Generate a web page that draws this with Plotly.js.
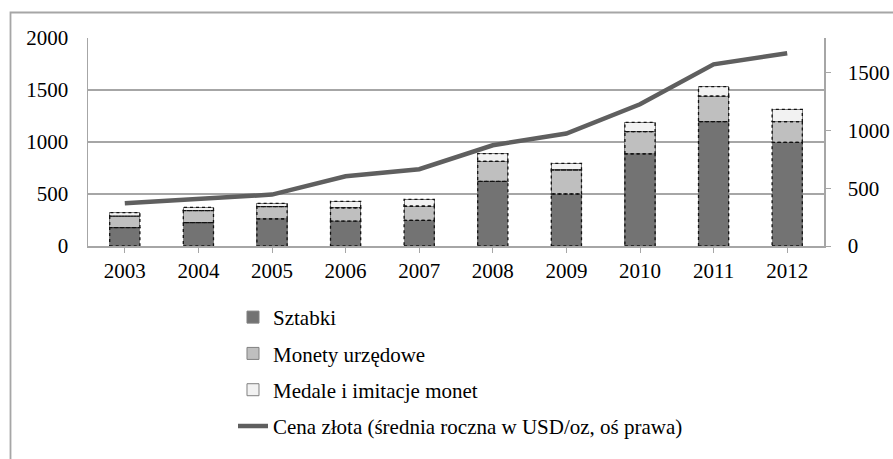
<!DOCTYPE html>
<html>
<head>
<meta charset="utf-8">
<script src="https://cdn.plot.ly/plotly-3.0.1.min.js"></script>
<style>html,body{margin:0;padding:0;background:#fff;}#chart{width:893px;height:459px;}</style>
</head>
<body>
<div id="chart"></div>
<script>
const years = ['2003','2004','2005','2006','2007','2008','2009','2010','2011','2012'];
const sztabki = [176, 224, 260, 240, 247, 622, 500, 885, 1195, 997];
const monety = [112, 116, 118, 128, 135, 192, 231, 214, 247, 198];
const medale = [32, 32, 32, 62, 67, 74, 64, 90, 90, 119];
const cenaZlota = [369, 410, 445, 604, 665, 872, 973, 1226, 1572, 1668];

const names = ['Sztabki', 'Monety urzędowe', 'Medale i imitacje monet', 'Cena złota (średnia roczna w USD/oz, oś prawa)'];
const colors = ['#737373', '#bfbfbf', '#f2f2f2'];
const barSeries = [sztabki, monety, medale];
const barHalf = 0.205;

const traces = barSeries.map((vals, k) => ({
  type: 'bar', x: years, y: vals, name: names[k], legendgroup: 'g' + k,
  marker: {color: colors[k], line: {color: '#808080', width: 1}},
  hoverinfo: 'y'
}));
traces.push({
  type: 'scatter', mode: 'lines', x: years, y: cenaZlota, yaxis: 'y2', name: names[3], legendgroup: 'g3',
  line: {color: '#5f5f5f', width: 4.5}
});

const shapes = [];
years.forEach((yr, i) => {
  let base = 0;
  barSeries.forEach(vals => {
    shapes.push({type: 'rect', xref: 'x', yref: 'y', x0: i - barHalf, x1: i + barHalf, y0: base, y1: base + vals[i],
      line: {color: '#111', width: 1.3, dash: 'dot'}, fillcolor: 'rgba(0,0,0,0)'});
    base += vals[i];
  });
});
shapes.push({type: 'rect', xref: 'paper', yref: 'paper', x0: -0.1053, x1: 2, y0: -2, y1: 1.1226,
  line: {color: '#a6a6a6', width: 1.8}, fillcolor: 'rgba(0,0,0,0)', layer: 'below'});

const FAM = 'Liberation Serif, Times New Roman, serif';
const mkFont = (s) => ({family: FAM, size: s, color: '#000'});
const layout = {
  width: 893, height: 459,
  margin: {l: 88, r: 69, t: 38, b: 213},
  paper_bgcolor: '#fff', plot_bgcolor: '#fff',
  font: mkFont(20),
  barmode: 'stack', bargap: 0.59,
  showlegend: true,
  legend: {x: 0.197, y: -0.245, xanchor: 'left', yanchor: 'top', orientation: 'v',
    traceorder: 'grouped', tracegroupgap: 6, font: mkFont(21), bgcolor: 'rgba(0,0,0,0)'},
  xaxis: {type: 'category', range: [-0.5, 9.5], showline: true, linecolor: '#a6a6a6', linewidth: 1.5,
    ticks: 'outside', ticklen: 5, tickcolor: '#a6a6a6', showgrid: false, tickfont: mkFont(21), fixedrange: true},
  yaxis: {range: [0, 2000], dtick: 500, showgrid: true, gridcolor: '#a6a6a6', gridwidth: 1.5,
    showline: true, linecolor: '#a6a6a6', linewidth: 1.5, ticks: '', ticklabelstandoff: 14,
    zeroline: false, tickfont: mkFont(21)},
  yaxis2: {overlaying: 'y', side: 'right', range: [0, 1800], dtick: 500, showgrid: false, zeroline: false,
    showline: true, linecolor: '#a6a6a6', linewidth: 1.5, ticks: 'outside', ticklen: 5, tickcolor: '#a6a6a6',
    ticklabelstandoff: 13, tickfont: mkFont(21)},
  shapes: shapes
};
Plotly.newPlot('chart', traces, layout, {displayModeBar: false, staticPlot: true});
</script>
</body>
</html>
